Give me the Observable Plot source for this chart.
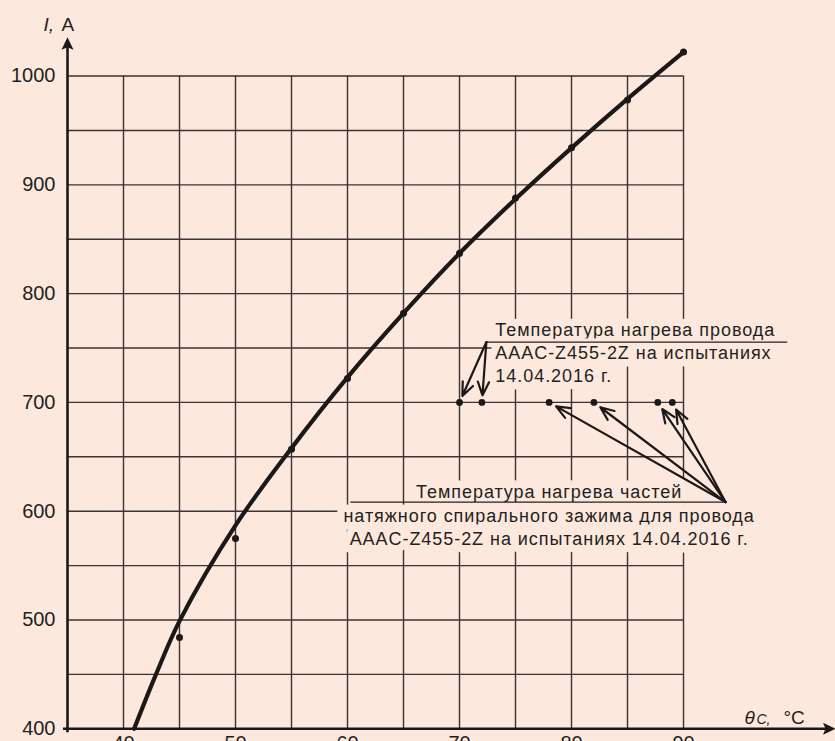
<!DOCTYPE html>
<html><head><meta charset="utf-8">
<script src="https://cdn.jsdelivr.net/npm/d3@7"></script>
<script src="https://cdn.jsdelivr.net/npm/@observablehq/plot@0.6"></script>
<style>
html,body{margin:0;padding:0;background:#fde8de;overflow:hidden;}
#chart svg{display:block;}
</style></head><body><div id="chart"></div>
<script>
// ---- data ----
const thetaMeasured   = [45, 50, 55, 60, 65, 70, 75, 80, 85, 90];
const currentMeasured = [484, 575, 657, 722, 782, 837, 888, 934, 978, 1022];
const thetaCurve   = [40.95, 42.9, 45, 50, 55, 60, 65, 70, 75, 80, 85, 90];
const currentCurve = [400, 450, 499, 587, 658, 723, 782, 837, 887, 934, 979, 1022];
const testCurrent = 700;
const wireTemps  = [70, 72];
const clampTemps = [78, 82, 87.7, 89];
const xTickLabels = [40, 50, 60, 70, 80, 90];
const yTickLabels = [400, 500, 600, 700, 800, 900, 1000];
const xGridLines = [40, 45, 50, 55, 60, 65, 70, 75, 80, 85, 90];
const yGridLines = [450, 500, 550, 600, 650, 700, 750, 800, 850, 900, 950, 1000];
const wireLabel  = ["Температура нагрева провода", "AAAC-Z455-2Z на испытаниях", "14.04.2016 г."];
const clampLabel = ["Температура нагрева частей", "натяжного спирального зажима для провода", "AAAC-Z455-2Z на испытаниях 14.04.2016 г."];

// ---- annotation placement (data units) ----
const xDomain = [35, 103.57], yDomain = [400, 1035.7];
const gridTop = 1000, gridRight = 90;
const wireAnchor = {x: 72.4, y: 755.5, lineEnd: 99.3, textX: 73.2, textY: 718.4};
const clampAnchor = {x: 93.75, y: 608.4, lineStart: 60.3, textX: 78.0, textY: 569.2};

const BG = "#fde8de", INK = "#1c1818", GRID = "#3b3333";
const arrowHead = {draw(ctx) { ctx.moveTo(0, 0); ctx.lineTo(-6, 12.5); ctx.lineTo(0, 10); ctx.lineTo(6, 12.5); ctx.closePath(); }};

const measured = thetaMeasured.map((t, i) => ({t, c: currentMeasured[i]}));
const curve = thetaCurve.map((t, i) => ({t, c: currentCurve[i]}));
const tests = [...wireTemps, ...clampTemps].map(t => ({t, c: testCurrent}));

const font = "'Liberation Sans', Arial, sans-serif";
const haloText = (lines, anchor, textAnchor) => Plot.text([lines.join("\n")], {
  x: () => anchor.textX, y: () => anchor.textY, textAnchor, lineAnchor: "bottom",
  lineHeight: 1.29, fontSize: 18, fill: "#231f20", stroke: BG, strokeWidth: 15,
  strokeLinejoin: "round", paintOrder: "stroke", fontFamily: font
});

const plot = Plot.plot({
  width: 835, height: 770,
  marginLeft: 67, marginRight: 0, marginTop: 36.7, marginBottom: 41.7,
  style: {background: BG, fontFamily: font, color: "#231f20", overflow: "visible"},
  x: {domain: xDomain},
  y: {domain: yDomain},
  marks: [
    Plot.ruleX(xGridLines, {y1: yDomain[0], y2: gridTop, stroke: GRID, strokeWidth: 1.4}),
    Plot.ruleY(yGridLines, {x1: xDomain[0], x2: gridRight, stroke: GRID, strokeWidth: 1.4}),
    haloText(wireLabel, wireAnchor, "start"),
    haloText(clampLabel, clampAnchor, "middle"),
    Plot.ruleY([wireAnchor.y], {x1: wireAnchor.x, x2: wireAnchor.lineEnd, stroke: "#231f20", strokeWidth: 1.3}),
    Plot.ruleY([clampAnchor.y], {x1: clampAnchor.lineStart, x2: clampAnchor.x, stroke: "#231f20", strokeWidth: 1.3}),
    Plot.arrow(wireTemps, {x1: () => wireAnchor.x, y1: () => wireAnchor.y, x2: d => d, y2: () => testCurrent,
      insetEnd: 7, headLength: 10, headAngle: 45, strokeWidth: 2.2, stroke: INK}),
    Plot.arrow(clampTemps, {x1: () => clampAnchor.x, y1: () => clampAnchor.y, x2: d => d, y2: () => testCurrent,
      insetEnd: 8, headLength: 10, headAngle: 45, strokeWidth: 2.2, stroke: INK}),
    Plot.line(curve, {x: "t", y: "c", curve: "catmull-rom", stroke: INK, strokeWidth: 4.2, strokeLinecap: "round"}),
    Plot.dot(measured, {x: "t", y: "c", r: 3.5, fill: INK}),
    Plot.dot(tests, {x: "t", y: "c", r: 3.4, fill: INK}),
    // axes
    Plot.ruleX([xDomain[0]], {y1: yDomain[0], y2: yDomain[1], stroke: INK, strokeWidth: 2.6, dy: 4}),
    Plot.ruleY([yDomain[0]], {x1: xDomain[0], x2: xDomain[1], stroke: INK, strokeWidth: 2.6, dx: -4}),
    Plot.dot([{t: xDomain[0], c: yDomain[1]}], {x: "t", y: "c", symbol: arrowHead, fill: INK, stroke: null}),
    Plot.dot([{t: xDomain[1], c: yDomain[0]}], {x: "t", y: "c", symbol: arrowHead, rotate: 90, fill: INK, stroke: null}),
    Plot.axisY(yTickLabels, {tickSize: 0, tickPadding: 12, fontSize: 20, label: null, fill: "#231f20", tickFormat: d => String(d)}),
    Plot.axisX(xTickLabels, {tickSize: 0, tickPadding: 7, fontSize: 20, label: null, fill: "#231f20", tickFormat: d => String(d)}),
    // axis titles
    Plot.text(["I,"], {frameAnchor: "top-left", dx: -24, dy: -6.7, textAnchor: "start", lineAnchor: "bottom", fontSize: 19, fontStyle: "italic", fill: "#231f20"}),
    Plot.text(["A"], {frameAnchor: "top-left", dx: -6, dy: -6.7, textAnchor: "start", lineAnchor: "bottom", fontSize: 19, fill: "#231f20"}),
    Plot.text(["θ"], {frameAnchor: "bottom-right", dx: -91, dy: -5, textAnchor: "start", lineAnchor: "bottom", fontSize: 19, fontStyle: "italic", fill: "#231f20"}),
    Plot.text(["C,"], {frameAnchor: "bottom-right", dx: -79, dy: -5, textAnchor: "start", lineAnchor: "bottom", fontSize: 14, fontStyle: "italic", fill: "#231f20"}),
    Plot.text(["°C"], {frameAnchor: "bottom-right", dx: -52, dy: -5, textAnchor: "start", lineAnchor: "bottom", fontSize: 19, fill: "#231f20"})
  ]
});
// widen the annotation lettering to match the reference
d3.select(plot).selectAll("text, tspan")
  .filter(function() { return /[А-Яа-я]/.test(this.textContent); })
  .style("letter-spacing", "0.95px");
document.getElementById("chart").append(plot);
</script>
</body></html>
